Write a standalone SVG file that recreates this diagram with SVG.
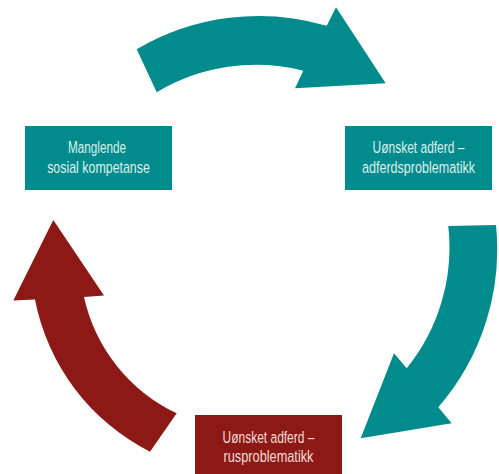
<svg xmlns="http://www.w3.org/2000/svg" width="499" height="474" viewBox="0 0 499 474">
<style>
.teal{fill:#028b8c}
.red{fill:#8c1915}
.lbl{font-family:"Liberation Sans","DejaVu Sans",sans-serif;font-size:17px;text-anchor:middle}
.lt{fill:#dcefed}
.lr{fill:#f1dbd9}
</style>
<rect width="499" height="474" fill="#ffffff"/>
<g id="connectors">
<path id="arrow-top" class="teal" d="M156.7,92.3 L136.7,49.3 A241,241 0 0 1 326.7,25.7 L336,7.3 L385.7,83.3 L295,88.3 L303.3,70.7 A193,193 0 0 0 156.7,92.3 Z"/>
<path id="arrow-right" class="teal" d="M448.3,226 L496,225 A241,241 0 0 1 438.3,407.3 L451.7,423.3 L360.7,438.3 L394,353.3 L406.7,368.3 A192,192 0 0 0 448.3,226 Z"/>
<path id="arrow-left" class="red" d="M176.7,413.3 L150,451.7 A217,217 0 0 1 35,299.5 L13.3,300.5 L53.3,220 L104,295.5 L84,297 A169,169 0 0 0 176.7,413.3 Z"/>
</g>
<g id="node-manglende">
<rect class="teal" x="25" y="126" width="147" height="64"/>
<text class="lbl lt" transform="translate(97,153) scale(0.69,1)">Manglende</text>
<text class="lbl lt" transform="translate(98.5,172.5) scale(0.73,1)">sosial kompetanse</text>
</g>
<g id="node-adferd">
<rect class="teal" x="345" y="126" width="147" height="64"/>
<text class="lbl lt" transform="translate(418.5,153) scale(0.705,1)">Uønsket adferd –</text>
<text class="lbl lt" transform="translate(418.5,172.5) scale(0.74,1)">adferdsproblematikk</text>
</g>
<g id="node-rus">
<rect class="red" x="195" y="415" width="147" height="64"/>
<text class="lbl lr" transform="translate(268.5,442.5) scale(0.705,1)">Uønsket adferd –</text>
<text class="lbl lr" transform="translate(268.5,462) scale(0.75,1)">rusproblematikk</text>
</g>
</svg>
